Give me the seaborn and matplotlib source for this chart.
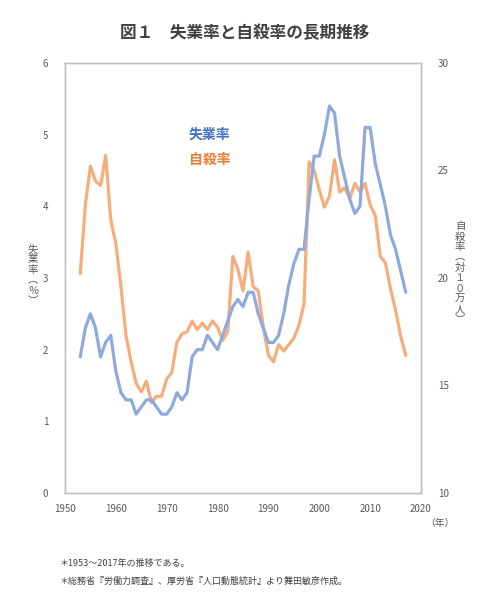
import numpy as np
import pandas as pd
import matplotlib
matplotlib.use("Agg")
import matplotlib.pyplot as plt
import seaborn as sns

sns.set_theme(style="white")
plt.rcParams['font.family'] = ['Noto Sans CJK JP', 'DejaVu Sans']

# data
years = list(range(1953, 2018))
unemployment = [1.9, 2.3, 2.5, 2.3, 1.9, 2.1, 2.2, 1.7, 1.4, 1.3,
                1.3, 1.1, 1.2, 1.3, 1.3, 1.2, 1.1, 1.1, 1.2, 1.4,
                1.3, 1.4, 1.9, 2.0, 2.0, 2.2, 2.1, 2.0, 2.2, 2.4,
                2.6, 2.7, 2.6, 2.8, 2.8, 2.5, 2.3, 2.1, 2.1, 2.2,
                2.5, 2.9, 3.2, 3.4, 3.4, 4.1, 4.7, 4.7, 5.0, 5.4,
                5.3, 4.7, 4.4, 4.1, 3.9, 4.0, 5.1, 5.1, 4.6, 4.3,
                4.0, 3.6, 3.4, 3.1, 2.8]
suicide = [20.2, 23.4, 25.2, 24.5, 24.3, 25.7, 22.7, 21.6, 19.6, 17.3,
           16.1, 15.1, 14.7, 15.2, 14.2, 14.5, 14.5, 15.3, 15.6, 17.0,
           17.4, 17.5, 18.0, 17.6, 17.9, 17.6, 18.0, 17.7, 17.1, 17.5,
           21.0, 20.4, 19.4, 21.2, 19.6, 19.4, 17.7, 16.4, 16.1, 16.9,
           16.6, 16.9, 17.2, 17.8, 18.8, 25.4, 25.0, 24.1, 23.3, 23.8,
           25.5, 24.0, 24.2, 23.7, 24.4, 24.0, 24.4, 23.4, 22.9, 21.0,
           20.7, 19.5, 18.5, 17.3, 16.4]
x_ticks = [1950, 1960, 1970, 1980, 1990, 2000, 2010, 2020]

df = pd.DataFrame({"year": years, "unemp": unemployment, "suicide": suicide})

blue_line = "#8eaadd"
orange_line = "#f5ad7c"
tick_col = "#595959"

fig = plt.figure(figsize=(4.98, 6.15), dpi=100)
ax = fig.add_axes([0.1305, 0.1984, 0.7149, 0.6992])
ax2 = ax.twinx()

sns.lineplot(data=df, x="year", y="unemp", ax=ax, color=blue_line, lw=2.3)
sns.lineplot(data=df, x="year", y="suicide", ax=ax2, color=orange_line, lw=2.3)
ax2.set_zorder(ax.get_zorder() - 1)
ax.patch.set_visible(False)

ax.set_xlim(1950, 2020)
ax.set_ylim(0, 6)
ax2.set_ylim(10, 30)
ax.set_xticks(x_ticks)
ax.set_yticks(range(0, 7))
ax2.set_yticks([10, 15, 20, 25, 30])
ax.set_xlabel("")
ax.set_ylabel("")
ax2.set_ylabel("")

for a in (ax, ax2):
    for s in a.spines.values():
        s.set_color("#c0c0c0")
        s.set_linewidth(1.0)
    a.tick_params(axis="both", length=0, labelsize=7, colors=tick_col)
ax.tick_params(axis="y", pad=12)
ax2.tick_params(axis="y", pad=12)
ax.tick_params(axis="x", pad=8)

# series labels
ax.text(1974.3, 5.0, "失業率", color="#4472c4", fontsize=10, fontweight="bold", va="center")
ax.text(1974.3, 4.64, "自殺率", color="#ed7d31", fontsize=10, fontweight="bold", va="center")

# vertical axis titles (stacked, vertical writing)
fig.text(33 / 498, 1 - 275 / 615, "\n".join(["失", "業", "率", "︵", "％", "︶"]), ha="center", va="center",
         fontsize=7.5, color=tick_col, linespacing=1.05)
fig.text(460 / 498, 1 - 273 / 615, "\n".join(["自", "殺", "率", "︵", "対", "１", "０", "万", "人", "︶"]),
         ha="center", va="center", fontsize=7.5, color=tick_col, linespacing=1.05)
fig.text(440 / 498, 1 - 523 / 615, "（年）", ha="center", va="center", fontsize=7, color=tick_col)

fig.text(245 / 498, 1 - 33 / 615, "図１　失業率と自殺率の長期推移", ha="center", va="center",
         fontsize=12, fontweight="bold", color="#404040")

fig.text(60 / 498, 1 - 563 / 615, "＊1953～2017年の推移である。", ha="left", va="center",
         fontsize=6.5, color="#404040")
fig.text(60 / 498, 1 - 581 / 615, "＊総務省『労働力調査』、厚労省『人口動態統計』より舞田敏彦作成。",
         ha="left", va="center", fontsize=6.5, color="#404040")

fig.savefig("out.png", dpi=100)
